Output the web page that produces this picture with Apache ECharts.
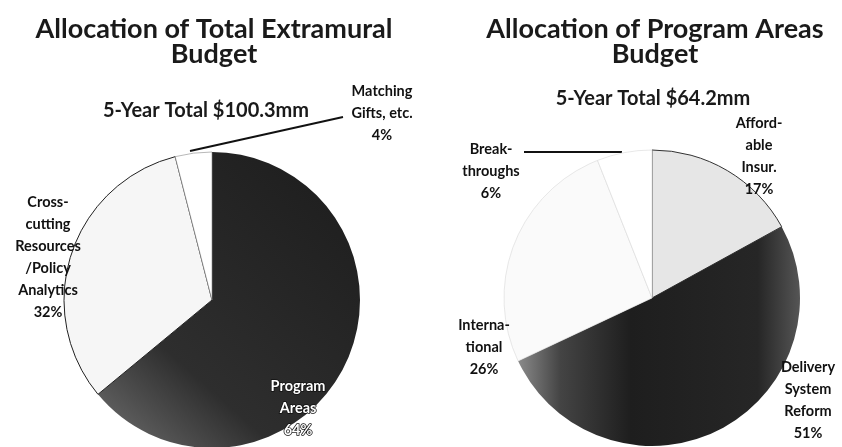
<!DOCTYPE html>
<html>
<head>
<meta charset="utf-8">
<script src="https://cdn.jsdelivr.net/npm/echarts@6/dist/echarts.min.js"></script>
<style>
html,body{margin:0;padding:0;background:#fff;}
#chart{width:842px;height:447px;}
</style>
</head>
<body>
<div id="chart"></div>
<script>
// ---- Data ----
const leftTitle = 'Allocation of Total Extramural\nBudget';
const leftSubtitle = '5-Year Total $100.3mm';
const leftCategories = ['Program Areas', 'Cross-cutting Resources/Policy Analytics', 'Matching Gifts, etc.'];
const leftValues = [64, 32, 4];
const leftLabelText = ['Program\nAreas', 'Cross-\ncutting\nResources\n/Policy\nAnalytics', 'Matching\nGifts, etc.'];

const rightTitle = 'Allocation of Program Areas\nBudget';
const rightSubtitle = '5-Year Total $64.2mm';
const rightCategories = ['Affordable Insur.', 'Delivery System Reform', 'International', 'Breakthroughs'];
const rightValues = [17, 51, 26, 6];
const rightLabelText = ['Afford-\nable\nInsur.', 'Delivery\nSystem\nReform', 'Interna-\ntional', 'Break-\nthroughs'];

// ---- Styling / layout ----
const FONT = 'Lato, "DejaVu Sans", sans-serif';
const leftLabelPos = [[298, 408], [48, 257], [382, 113]];
const rightLabelPos = [[759, 156], [808, 400], [484, 347], [491, 171]];
// leader lines (annotation only): index -> polyline
const leftLeaders = {2: [[190, 151], [343, 117]]};
const rightLeaders = {3: [[524, 152], [622, 152]]};

const darkLeft = new echarts.graphic.LinearGradient(0, 1, 1, 0, [
  {offset: 0, color: '#707070'}, {offset: 0.3, color: '#2e2e2e'}, {offset: 1, color: '#1c1c1c'}
]);
const darkRight = new echarts.graphic.LinearGradient(0, 0, 1, 0, [
  {offset: 0, color: '#8a8a8a'}, {offset: 0.15, color: '#444'}, {offset: 0.4, color: '#1e1e1e'},
  {offset: 0.85, color: '#262626'}, {offset: 1, color: '#555'}
]);
const leftColors = [darkLeft, '#f6f6f6', '#ffffff'];
const rightColors = ['#e6e6e6', darkRight, '#fafafa', '#ffffff'];
const leftLabelStyles = [
  {color: '#ffffff', textBorderColor: '#111', textBorderWidth: 1.5, opacity: 1},
  {color: '#111'}, {color: '#111'}
];
const rightLabelStyles = [{color: '#111'}, {color: '#111'}, {color: '#111'}, {color: '#111'}];
const leftBorders = [['#222', 0], ['#222', 1], ['#888', 0.6]];
const rightBorders = [['#333', 1], ['#222', 0], ['#d8d8d8', 0.6], ['#d8d8d8', 0.6]];

function buildData(cats, vals, texts, colors, labelStyles, borders, leaders) {
  return cats.map((c, i) => ({
    name: c,
    value: vals[i],
    labelText: texts[i],
    itemStyle: {color: colors[i], borderColor: borders[i][0], borderWidth: borders[i][1]},
    label: labelStyles[i],
    labelLine: {show: !!leaders[i]}
  }));
}

function labelFormatter(p) {
  return p.data.labelText + '\n' + p.value + '%';
}

const labelStyle = {
  show: true,
  position: 'outside',
  alignTo: 'none',
  overflow: 'none',
  formatter: labelFormatter,
  fontFamily: FONT,
  fontWeight: 'bold',
  fontSize: 14.5,
  lineHeight: 22,
  align: 'center'
};

function makeLayout(posList, leaders) {
  return function (p) {
    const pos = posList[p.dataIndex];
    const o = {x: pos[0], y: pos[1], align: 'center', verticalAlign: 'middle', hideOverlap: false, moveOverlap: false};
    if (leaders[p.dataIndex]) o.labelLinePoints = leaders[p.dataIndex];
    return o;
  };
}

const titleStyle = {fontFamily: FONT, fontWeight: 'bold', fontSize: 27, lineHeight: 25, color: '#1a1a1a'};
const subStyle = {fontFamily: FONT, fontWeight: 'bold', fontSize: 20, color: '#1a1a1a'};

const chart = echarts.init(document.getElementById('chart'), null, {renderer: 'canvas'});
chart.setOption({
  backgroundColor: '#fff',
  animation: false,
  title: [
    {text: leftTitle, left: 209, top: 12, textAlign: 'center', textStyle: titleStyle},
    {text: rightTitle, left: 650, top: 12, textAlign: 'center', textStyle: titleStyle},
    {text: leftSubtitle, left: 201, top: 96, textAlign: 'center', textStyle: subStyle},
    {text: rightSubtitle, left: 648, top: 84, textAlign: 'center', textStyle: subStyle}
  ],
  series: [
    {
      type: 'pie',
      center: [212, 300],
      radius: 148,
      startAngle: 90,
      clockwise: true,
      data: buildData(leftCategories, leftValues, leftLabelText, leftColors, leftLabelStyles, leftBorders, leftLeaders),
      label: labelStyle,
      labelLine: {show: true, length: 0, length2: 0, lineStyle: {color: '#111', width: 2}},
      labelLayout: makeLayout(leftLabelPos, leftLeaders),
      emphasis: {disabled: true}
    },
    {
      type: 'pie',
      center: [652, 298],
      radius: 148,
      startAngle: 90,
      clockwise: true,
      data: buildData(rightCategories, rightValues, rightLabelText, rightColors, rightLabelStyles, rightBorders, rightLeaders),
      label: labelStyle,
      labelLine: {show: true, length: 0, length2: 0, lineStyle: {color: '#111', width: 2}},
      labelLayout: makeLayout(rightLabelPos, rightLeaders),
      emphasis: {disabled: true}
    }
  ]
});
</script>
</body>
</html>
